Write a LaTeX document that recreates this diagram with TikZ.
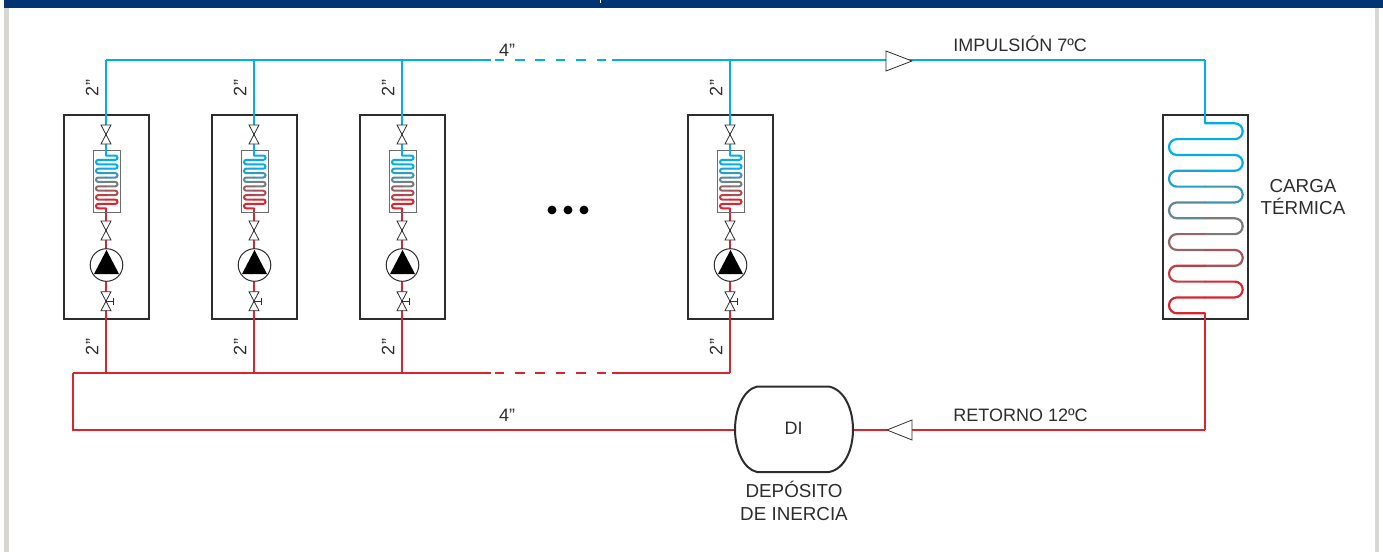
\documentclass[tikz,border=0pt]{standalone}
\usepackage{fontspec}
\setmainfont{Liberation Sans}
\definecolor{pipeblue}{RGB}{0,174,239}
\definecolor{pipered}{RGB}{218,37,48}
\definecolor{coilgray}{RGB}{122,124,122}
\definecolor{framegray}{RGB}{216,214,209}
\definecolor{barnavy}{RGB}{0,52,115}
\definecolor{inkgray}{RGB}{45,45,45}

% Coil: cx, first row y, left x, right x, row spacing, line width
\newcommand{\serpentine}[6]{
    \foreach \i in {1,...,12} {
        \pgfmathsetmacro\coolpct{max(0,min(100,(7-\i)/4*100))}
        \pgfmathsetmacro\warmpct{max(0,min(100,(\i-7)/4*100))}
        \ifnum\i<8
            \colorlet{segcolor}{pipeblue!\coolpct!coilgray}
        \else
            \colorlet{segcolor}{pipered!\warmpct!coilgray}
        \fi
        \pgfmathsetmacro\ya{#2+(\i-1)*#5}
        \pgfmathsetmacro\yb{#2+\i*#5}
        \pgfmathsetmacro\xe{isodd(\i)?#4:#3}
        \pgfmathsetmacro\rad{#5*0.25}
        \draw[line width=#6, line cap=round, segcolor, rounded corners=\rad pt]
            (#1,\ya) -- (\xe,\ya) -- (\xe,\yb) -- (#1,\yb);
    }
}

% Valve pair: cx, top y
\newcommand{\valvepair}[2]{
    \draw[valveline] (#1-5,#2) -- (#1+5,#2) -- (#1,#2+9.5) -- cycle;
    \draw[valveline] (#1-5,#2+19) -- (#1+5,#2+19) -- (#1,#2+9.5) -- cycle;
}

\tikzset{
    unitbox/.style={draw=inkgray, line width=1pt, minimum width=42.5pt, minimum height=102pt, inner sep=0pt},
    hxbox/.style={draw=inkgray!70, line width=0.5pt, fill=white, minimum width=13.5pt, minimum height=31pt, inner sep=0pt},
    pumpcircle/.style={circle, draw=inkgray, line width=0.5pt, fill=white, minimum size=16.3pt, inner sep=0pt},
    valveline/.style={draw=inkgray, line width=0.4pt, fill=white},
    bluepipe/.style={pipeblue, line width=1.3pt},
    redpipe/.style={pipered, line width=1.3pt},
    gaplinedash/.style={dash pattern=on 4.75pt off 5.45pt},
    label/.style={text=inkgray, font=\fontsize{9}{9}\selectfont, inner sep=0pt},
    labelstack/.style={label, align=center, font=\fontsize{9.4}{11.4}\selectfont}
}

\begin{document}
\begin{tikzpicture}[x=0.5pt, y=-0.5pt]
    \useasboundingbox (0,0) rectangle (1383,552);

    % Frame
    \fill[framegray] (4,8) rectangle (9,552);
    \fill[framegray] (1375,8) rectangle (1379,552);
    \fill[barnavy] (4,0) rectangle (1383,8.3);
    \fill[white] (599.5,0) rectangle (601,2.5);

    % Main coordinates
    \coordinate (headstart) at (106,60);
    \coordinate (headgapa) at (491,60);
    \coordinate (headgapb) at (612,60);
    \coordinate (headend) at (1205,60);
    \coordinate (collstart) at (73,373);
    \coordinate (collgapa) at (491,373);
    \coordinate (collgapb) at (612,373);
    \coordinate (collend) at (730,373);
    \coordinate (retcorner) at (73,430);
    \coordinate (loadcorner) at (1205,430);

    % Unit modules
    \foreach \cx/\n in {106/a,254/b,402/c,730/d} {
        \node[unitbox] (unit\n) at (\cx+0.5,217.2) {};
        \coordinate (head\n) at (\cx,60);
        \coordinate (coll\n) at (\cx,373);
        \draw[bluepipe] (head\n) -- (\cx,152);
        \draw[redpipe] (\cx,209) -- (coll\n);
        \node[hxbox] (hx\n) at (\cx+0.5,181) {};
        \serpentine{\cx}{155.5}{\cx-10}{\cx+11.5}{4.4}{1pt}
        \draw[pipeblue, line width=1pt] (\cx,150) -- (\cx,155.5);
        \draw[pipered, line width=1pt] (\cx,208.3) -- (\cx,212);
        \valvepair{\cx}{125}
        \valvepair{\cx}{221}
        \node[pumpcircle] (pump\n) at (\cx+0.5,265) {};
        \fill[black] (\cx+0.5,250) -- (\cx+13,274) -- (\cx-12,274) -- cycle;
        \valvepair{\cx}{291.7}
        \draw[inkgray, line width=0.5pt] (\cx,301.2) -- (\cx+7.5,301.2);
        \draw[inkgray, line width=0.5pt] (\cx+7.5,297.7) -- (\cx+7.5,304.7);
        \node[label, rotate=90] (upper\n) at (\cx-14,88) {2”};
        \node[label, rotate=90] (lower\n) at (\cx-14,347) {2”};
    }

    % Load
    \node[unitbox] (load) at (1205,217.2) {};
    \serpentine{1205}{123.3}{1169}{1242.7}{15.83}{1.1pt}
    \draw[pipeblue, line width=1.3pt] (headend) -- (1205,123.3);
    \draw[pipered, line width=1.3pt] (1205,313.3) -- (load.south);

    % Supply line
    \draw[bluepipe] (headstart) -- (headgapa);
    \draw[bluepipe, gaplinedash] (494.6,60) -- (606,60);
    \draw[bluepipe] (headgapb) -- (headend);

    % Collector and return
    \draw[redpipe] (collstart) -- (collgapa);
    \draw[redpipe, gaplinedash] (494.6,373) -- (606,373);
    \draw[redpipe] (collgapb) -- (collend);
    \draw[redpipe] (load.south) -- (loadcorner);

    % Tank
    \node[label, minimum width=59pt, minimum height=43pt] (tank) at (794,430) {};
    \draw[redpipe] (collstart) -- (retcorner) -- (tank.west);
    \draw[redpipe] (tank.east) -- (loadcorner);
    \draw[inkgray, line width=1pt, fill=white] (757,386.5) -- (829,386.5)
        .. controls (845,390) and (853,410) .. (853,429.5)
        .. controls (853,449) and (845,469) .. (829,472)
        -- (757,472)
        .. controls (743,469) and (735,449) .. (735,429.5)
        .. controls (735,410) and (743,390) .. (757,386.5) -- cycle;
    \node[label] (tanktag) at (793.5,428) {DI};

    % Flow arrows
    \draw[valveline] (886,51) -- (912,61) -- (886,71) -- cycle;
    \draw[valveline] (912,420) -- (887,430) -- (912,440) -- cycle;

    % Dots
    \foreach \x in {552,568,584} {
        \fill[black] (\x,210) circle (2.2pt);
    }

    % Labels
    \node[label] (headsize) at (507,50.5) {4”};
    \node[label] (retsize) at (507,415) {4”};
    \node[label, anchor=west] (supplytext) at (953,44) {IMPULSIÓN 7ºC};
    \node[label, anchor=west] (returntext) at (953,415) {RETORNO 12ºC};
    \node[labelstack] (loadtext) at (1303,197) {CARGA\\TÉRMICA};
    \node[labelstack] (tanktext) at (794,501) {DEPÓSITO\\DE INERCIA};
\end{tikzpicture}
\end{document}
